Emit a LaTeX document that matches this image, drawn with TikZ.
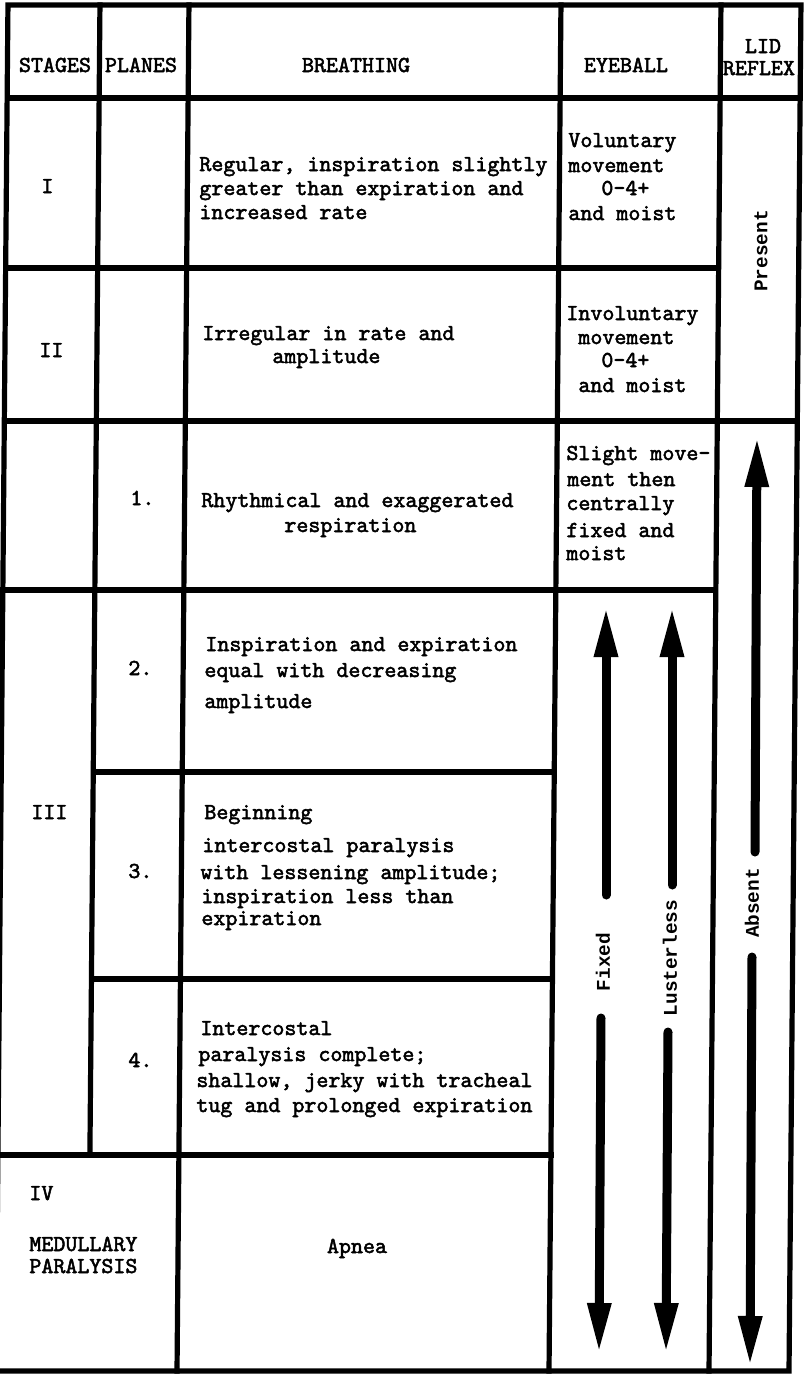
\documentclass[tikz,border=0pt]{standalone}
\usepackage{fontspec}
\usetikzlibrary{arrows.meta}
\newfontfamily\tw{lmmono10-regular.otf}[FakeBold=2.2]
\newfontfamily\lmb{Liberation Mono}
\begin{document}
\begin{tikzpicture}[x=0.5pt,y=-0.5pt,
  grid/.style={line width=2.6pt, line cap=rect, line join=miter},
  txt/.style={font=\tw\fontsize{11.43pt}{12pt}\selectfont, inner sep=0pt, anchor=base west},
  ctxt/.style={txt, anchor=base},
  vlab/.style={font=\lmb\bfseries\fontsize{9.7pt}{10pt}\selectfont, rotate=90, inner sep=0pt},
  bigarrow/.style={line width=4.5pt, line cap=round, -{Triangle[length=25pt,width=11pt]}}]
\useasboundingbox (0,0) rectangle (808,1378);
% ---------- grid (slightly skewed like the scan) ----------
\begin{scope}[xslant=0.00875]
  \draw[grid] (8,5) -- (801,5) -- (801,1371) -- (8,1371) -- cycle;
  \draw[grid] (100,5) -- (100,1155);
  \draw[grid] (189,5) -- (189,1371);
  \draw[grid] (561,5) -- (561,1371);
  \draw[grid] (721,5) -- (721,1371);
  \draw[grid] (8,98) -- (801,98);
  \draw[grid] (8,268) -- (721,268);
  \draw[grid] (8,421) -- (801,421);
  \draw[grid] (8,590) -- (721,590);
  \draw[grid] (100,772) -- (561,772);
  \draw[grid] (100,979) -- (561,979);
  \draw[grid] (8,1155) -- (561,1155);
\end{scope}
% ---------- header ----------
\node[ctxt] (hst) at (55,72) {STAGES};
\node[ctxt] (hpl) at (141,72) {PLANES};
\node[ctxt] (hbr) at (356,72) {BREATHING};
\node[ctxt] (hey) at (626,72) {EYEBALL};
\node[ctxt] (hlid) at (763,53) {LID};
\node[ctxt] (hrf) at (759,75) {REFLEX};
% ---------- stage I ----------
\node[txt] (sI) at (41,193) {I};
\node[txt] (bIa) at (199,171) {Regular, inspiration slightly};
\node[txt] (bIb) at (199,195) {greater than expiration and};
\node[txt] (bIc) at (199,219) {increased rate};
\node[txt] (eIa) at (568,147) {Voluntary};
\node[txt] (eIb) at (568,172) {movement};
\node[txt] (eIc) at (601,195) {0-4+};
\node[txt] (eId) at (568,220) {and moist};
\node[vlab] (present) at (761,251) {Present};
% ---------- stage II ----------
\node[txt] (sII) at (39,357) {II};
\node[txt] (bIIa) at (202,340) {Irregular in rate and};
\node[txt] (bIIb) at (272,363) {amplitude};
\node[txt] (eIIa) at (566,320) {Involuntary};
\node[txt] (eIIb) at (578,344) {movement};
\node[txt] (eIIc) at (601,367) {0-4+};
\node[txt] (eIId) at (578,392) {and moist};
% ---------- plane 1 ----------
\node[txt] (p1) at (130,505) {1.};
\node[txt] (b1a) at (201,507) {Rhythmical and exaggerated};
\node[txt] (b1b) at (284,532) {respiration};
\node[txt] (e1a) at (566,460) {Slight move-};
\node[txt] (e1b) at (567,486) {ment then};
\node[txt] (e1c) at (566,510) {centrally};
\node[txt] (e1d) at (566,537) {fixed and};
\node[txt] (e1e) at (566,560) {moist};
% ---------- plane 2 ----------
\node[txt] (p2) at (128,675) {2.};
\node[txt] (b2a) at (205,651) {Inspiration and expiration};
\node[txt] (b2b) at (204,677) {equal with decreasing};
\node[txt] (b2c) at (204,708) {amplitude};
% ---------- stage III, plane 3 ----------
\node[txt] (sIII) at (31,819) {III};
\node[txt] (p3) at (128,878) {3.};
\node[txt] (b3a) at (204,819) {Beginning};
\node[txt] (b3b) at (202,852) {intercostal paralysis};
\node[txt] (b3c) at (200,879) {with lessening amplitude;};
\node[txt] (b3d) at (201,903) {inspiration less than};
\node[txt] (b3e) at (201,925) {expiration};
% ---------- plane 4 ----------
\node[txt] (p4) at (128,1067) {4.};
\node[txt] (b4a) at (200,1035) {Intercostal};
\node[txt] (b4b) at (198,1061) {paralysis complete;};
\node[txt] (b4c) at (196,1087) {shallow, jerky with tracheal};
\node[txt] (b4d) at (196,1112) {tug and prolonged expiration};
% ---------- stage IV ----------
\node[txt] (sIV) at (29,1200) {IV};
\node[txt] (sIVa) at (29,1251) {MEDULLARY};
\node[txt] (sIVb) at (29,1273) {PARALYSIS};
\node[ctxt] (apnea) at (357,1253) {Apnea};
% ---------- eyeball / lid reflex arrows ----------
\node[vlab] (fixed) at (603,962) {Fixed};
\node[vlab] (lust) at (670,958) {Lusterless};
\node[vlab] (absent) at (752,903) {Absent};
\coordinate (fxa) at (606,895);  \coordinate (fxb) at (606,607);
\coordinate (fxc) at (601,1018); \coordinate (fxd) at (599,1353);
\coordinate (lua) at (672,885);  \coordinate (lub) at (672,607);
\coordinate (luc) at (668,1032); \coordinate (lud) at (666,1353);
\coordinate (aba) at (755,852);  \coordinate (abb) at (757,437);
\coordinate (abc) at (752,957);  \coordinate (abd) at (750,1366);
\draw[bigarrow] (fxa) -- (fxb);
\draw[bigarrow] (fxc) -- (fxd);
\draw[bigarrow] (lua) -- (lub);
\draw[bigarrow] (luc) -- (lud);
\draw[bigarrow] (aba) -- (abb);
\draw[bigarrow] (abc) -- (abd);
\end{tikzpicture}
\end{document}
